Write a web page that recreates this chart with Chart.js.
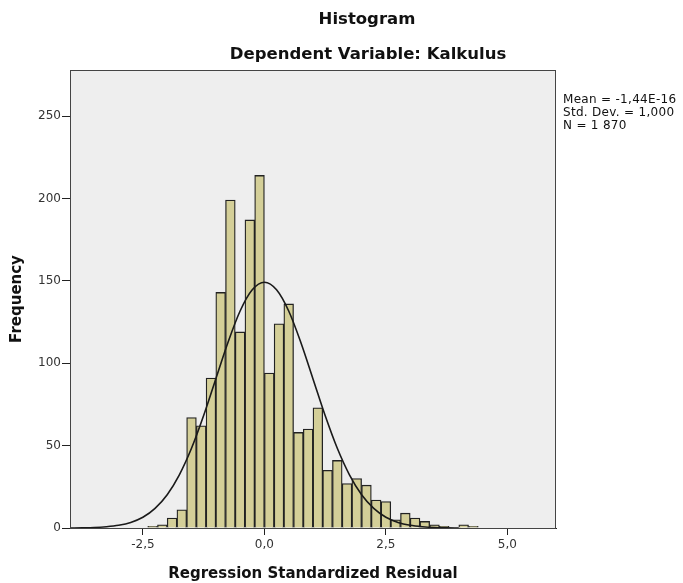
<!DOCTYPE html>
<html>
<head>
<meta charset="utf-8">
<script src="https://cdn.jsdelivr.net/npm/chart.js@4"></script>
<style>
  body { margin: 0; background: #fff; }
  #wrap { width: 683px; height: 583px; }
</style>
</head>
<body>
<div id="wrap"><canvas id="histChart" width="683" height="583"></canvas></div>
<script>
// Bin centres (bin width 0.2) and counts per bin
const binCenters = [-2.3, -2.1, -1.9, -1.7, -1.5, -1.3, -1.1, -0.9, -0.7, -0.5, -0.3, -0.1,
                    0.1, 0.3, 0.5, 0.7, 0.9, 1.1, 1.3, 1.5, 1.7, 1.9, 2.1, 2.3, 2.5, 2.7,
                    2.9, 3.1, 3.3, 3.5, 3.7, 3.9, 4.1, 4.3];
const frequencies = [1, 2, 6, 11, 67, 62, 91, 143, 199, 119, 187, 214,
                     94, 124, 136, 58, 60, 73, 35, 41, 27, 30, 26, 17, 16, 5,
                     9, 6, 4, 2, 1, 0, 2, 1];

// Normal curve points
const curveX = [-4, -3.75, -3.5, -3.25, -3, -2.75, -2.5, -2.25, -2, -1.75, -1.5, -1.25, -1, -0.75, -0.5, -0.25,
                0, 0.25, 0.5, 0.75, 1, 1.25, 1.5, 1.75, 2, 2.25, 2.5, 2.75, 3, 3.25, 3.5, 3.75, 4];
const curveY = [0.0, 0.1, 0.3, 0.8, 1.7, 3.4, 6.5, 11.9, 20.2, 32.3, 48.4, 68.3, 90.5, 112.6, 131.7, 144.6,
                149.2, 144.6, 131.7, 112.6, 90.5, 68.3, 48.4, 32.3, 20.2, 11.9, 6.5, 3.4, 1.7, 0.8, 0.3, 0.1, 0.0];

const xTicks = [-2.5, 0, 2.5, 5];
const yTicks = [0, 50, 100, 150, 200, 250];

const titleText = 'Histogram';
const subtitleText = 'Dependent Variable: Kalkulus';
const statsLines = ['Mean = -1,44E-16', 'Std. Dev. = 1,000', 'N = 1 870'];

const fmt = v => v.toFixed(1).replace('.', ',');
const boldFont = '"DejaVu Sans", sans-serif';

// grey panel behind the plot, frame around it, titles and the stats box
const panelPlugin = {
  id: 'panel',
  beforeDatasetsDraw(chart) {
    const { ctx, chartArea: a } = chart;
    ctx.save();
    ctx.fillStyle = '#eeeeee';
    ctx.fillRect(a.left, a.top, a.right - a.left, a.bottom - a.top);
    ctx.restore();
  },
  afterDraw(chart) {
    const { ctx, chartArea: a } = chart;
    ctx.save();
    ctx.strokeStyle = '#444';
    ctx.lineWidth = 1;
    ctx.strokeRect(a.left + 0.5, a.top + 0.5, a.right - a.left - 1, a.bottom - a.top);

    ctx.fillStyle = '#111';
    ctx.textAlign = 'center';
    ctx.textBaseline = 'middle';
    ctx.font = 'bold 16.5px ' + boldFont;
    ctx.fillText(titleText, 367, 20);
    ctx.fillText(subtitleText, 368, 55);

    ctx.textAlign = 'left';
    ctx.font = '12px "DejaVu Sans", sans-serif';
    ctx.letterSpacing = '0.3px';
    statsLines.forEach((s, i) => ctx.fillText(s, 563, 100 + i * 13));
    ctx.restore();
  }
};

const ctx = document.getElementById('histChart').getContext('2d');
new Chart(ctx, {
  type: 'bar',
  data: {
    datasets: [{
      type: 'line',
      data: curveX.map((x, i) => ({ x: x, y: curveY[i] })),
      borderColor: '#1a1a1a',
      borderWidth: 1.6,
      pointRadius: 0,
      cubicInterpolationMode: 'monotone',
      fill: false,
      order: 0
    }, {
      data: binCenters.map((x, i) => ({ x: x, y: frequencies[i] })),
      backgroundColor: '#d4cf98',
      borderColor: '#222',
      borderWidth: 1.3,
      barPercentage: 1,
      categoryPercentage: 1,
      order: 1
    }]
  },
  options: {
    responsive: false,
    animation: false,
    layout: { padding: { left: 0, right: 127, top: 70, bottom: 0 } },
    plugins: {
      legend: { display: false },
      tooltip: { enabled: false }
    },
    scales: {
      x: {
        type: 'linear',
        min: -4,
        max: 6,
        offset: false,
        afterBuildTicks: s => { s.ticks = xTicks.map(v => ({ value: v })); },
        afterFit: s => { s.height = 55; },
        ticks: {
          padding: 3,
          color: '#333',
          font: { family: '"DejaVu Sans", sans-serif', size: 12 },
          callback: v => fmt(v)
        },
        grid: { offset: false, drawOnChartArea: false, tickLength: 7, color: '#222' },
        border: { color: '#222' },
        title: {
          display: true,
          text: 'Regression Standardized Residual',
          color: '#111',
          padding: { top: 0, bottom: 0 },
          font: { family: boldFont, size: 15, weight: 'bold' }
        }
      },
      y: {
        min: 0,
        max: 278,
        afterBuildTicks: s => { s.ticks = yTicks.map(v => ({ value: v })); },
        afterFit: s => { s.width = 70; },
        ticks: {
          padding: 1,
          color: '#333',
          font: { family: '"DejaVu Sans", sans-serif', size: 12 }
        },
        grid: { drawOnChartArea: false, tickLength: 8, color: '#222' },
        border: { color: '#222' },
        title: {
          display: true,
          text: 'Frequency',
          color: '#111',
          padding: { top: 8, bottom: 0 },
          font: { family: boldFont, size: 15, weight: 'bold' }
        }
      }
    }
  },
  plugins: [panelPlugin]
});
</script>
</body>
</html>
